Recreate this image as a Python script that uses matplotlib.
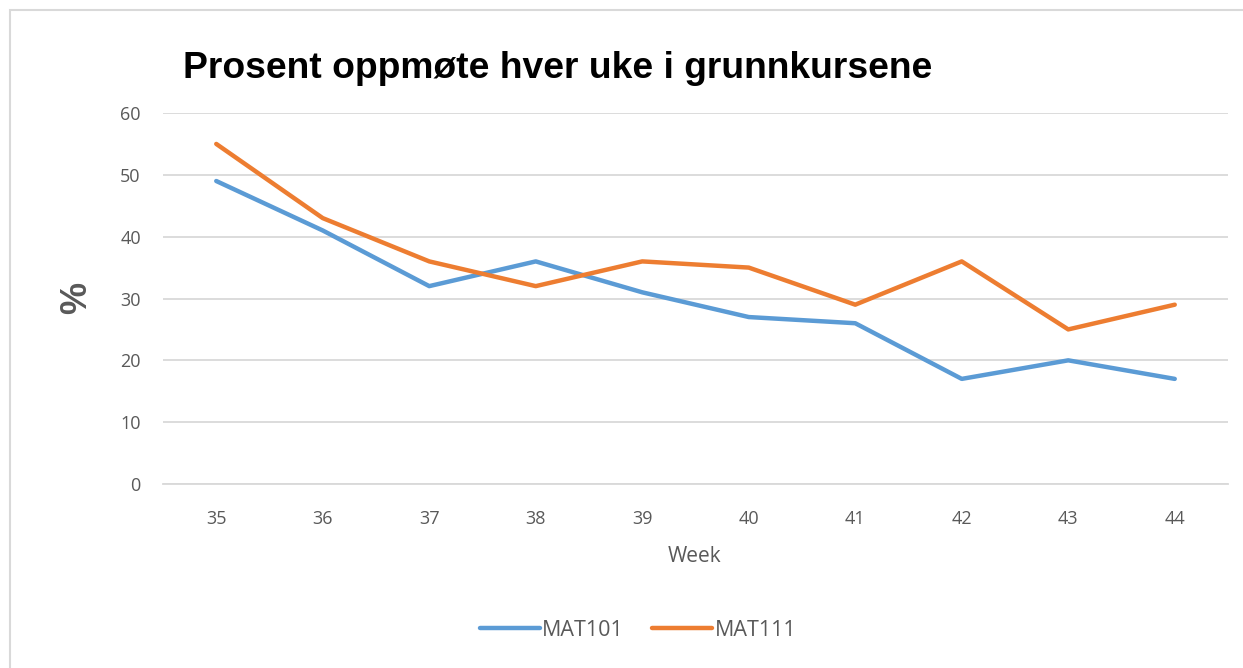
import matplotlib
matplotlib.use('Agg')
from matplotlib import pyplot as plt
from matplotlib.patches import Rectangle

# Data
weeks  = ['35', '36', '37', '38', '39', '40', '41', '42', '43', '44']
mat101 = [49, 41, 32, 36, 31, 27, 26, 17, 20, 17]
mat111 = [55, 43, 36, 32, 36, 35, 29, 36, 25, 29]
yticks = [0, 10, 20, 30, 40, 50, 60]

W, H = 1243, 668
grey = '#595959'
tickfont = 'Open Sans'

fig = plt.figure(figsize=(W/100., H/100.), dpi=100)
# outer chart border (only top/left visible in the crop)
fig.patches.append(Rectangle((10./W, -0.1), 1.2, 1 - 10./H + 0.1, transform=fig.transFigure,
                             fill=False, edgecolor='#d9d9d9', linewidth=1.5))

# plot area: x 163..1228, y 113(60)..484(0)
ax = fig.add_axes([163./W, 1 - 484./H, (1228. - 163.)/W, (484. - 113.)/H])
x = list(range(len(weeks)))
ax.plot(x, mat101, color='#5B9BD5', linewidth=3.2, solid_capstyle='round', label='MAT101', zorder=3)
ax.plot(x, mat111, color='#ED7D31', linewidth=3.2, solid_capstyle='round', label='MAT111', zorder=3)

ax.set_xlim(-0.5, len(weeks) - 0.5)
ax.set_ylim(0, 60)
ax.set_yticks(yticks)
ax.set_xticks(x)
ax.set_xticklabels(weeks)
ax.grid(axis='y', color='#d9d9d9', linewidth=1.3)
ax.set_axisbelow(True)
for s in ['top', 'right', 'left']:
	ax.spines[s].set_visible(False)
ax.spines['bottom'].set_color('#d9d9d9')
ax.spines['bottom'].set_linewidth(1.3)
ax.tick_params(axis='both', length=0, labelsize=13, labelcolor=grey)
ax.tick_params(axis='y', pad=16)
ax.tick_params(axis='x', pad=19)
for lab in ax.get_xticklabels() + ax.get_yticklabels():
	lab.set_fontfamily(tickfont)

fig.text(183./W, 1 - 78./H, 'Prosent oppmøte hver uke i grunnkursene', fontsize=26.8,
         fontweight='bold', family='Liberation Sans', color='black', va='baseline', ha='left')
fig.text(77./W, 1 - 298./H, '%', fontsize=26, fontweight='bold', family='Liberation Sans',
         color=grey, rotation=90, ha='center', va='center')
fig.text(694./W, 1 - 556./H, 'Week', fontsize=15, family=tickfont, color=grey,
         ha='center', va='center')

leg = fig.legend(loc='center', bbox_to_anchor=(638./W, 1 - 630./H), ncol=2, frameon=False,
                 handlelength=2.8, handletextpad=0.1, columnspacing=1.3,
                 prop={'family': tickfont, 'size': 15.5})
for t in leg.get_texts():
	t.set_color(grey)

fig.savefig('out.png', dpi=100)
